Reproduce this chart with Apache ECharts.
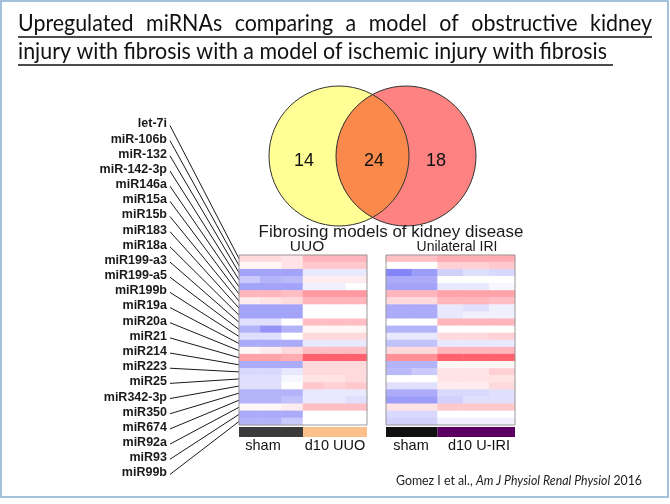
<!DOCTYPE html>
<html>
<head>
<meta charset="utf-8">
<script src="https://cdn.jsdelivr.net/npm/echarts@6/dist/echarts.min.js"></script>
<style>html,body{margin:0;padding:0;background:#fff;}#c{width:670px;height:504px;}</style>
</head>
<body>
<div id="c"></div>
<script>
// ---------- DATA ----------
const titleLine1 = 'Upregulated miRNAs comparing a model of obstructive kidney';
const titleLine2 = 'injury with fibrosis with a model of ischemic injury with fibrosis';
const vennLabels = ['UUO only', 'Both', 'IRI only'];
const vennValues = [14, 24, 18];
const mirnas = ['let-7i','miR-106b','miR-132','miR-142-3p','miR146a','miR15a','miR15b','miR183','miR18a','miR199-a3','miR199-a5','miR199b','miR19a','miR20a','miR21','miR214','miR223','miR25','miR342-3p','miR350','miR674','miR92a','miR93','miR99b'];
const uuoCols = ['sham1','sham2','sham3','d10a','d10b','d10c'];
const iriCols = ['sham1','sham2','d10a','d10b','d10c'];
// relative expression (-1 blue .. +1 red), one row per miRNA
const uuoValues = [
 [0.2,0.2,0.15, 0.4,0.4,0.4],
 [0.05,0.05,0.15, 0.3,0.3,0.3],
 [-0.6,-0.6,-0.6, -0.15,-0.15,-0.15],
 [-0.35,-0.5,-0.45, 0.1,0.1,0.1],
 [-0.6,-0.6,-0.6, -0.1,-0.1,0],
 [0.4,0.4,0.35, 0.55,0.55,0.55],
 [0.1,0.15,0.2, 0.4,0.4,0.4],
 [-0.6,-0.6,-0.6, 0,0,0],
 [-0.6,-0.6,-0.6, 0,0,0],
 [-0.2,-0.2,0, 0.35,0.35,0.35],
 [-0.5,-0.7,-0.5, 0.05,0.05,0.05],
 [-0.2,-0.2,0, 0.2,0.2,0.2],
 [-0.55,-0.55,-0.55, -0.15,-0.15,-0.15],
 [0.05,0.1,0.2, 0.35,0.35,0.35],
 [0.5,0.5,0.45, 0.85,0.85,0.85],
 [-0.55,-0.55,-0.55, 0.2,0.2,0.2],
 [-0.25,-0.25,-0.15, 0.2,0.2,0.2],
 [-0.2,-0.2,-0.05, 0.15,0.15,0.2],
 [-0.2,-0.2,0, 0.3,0.25,0.3],
 [-0.5,-0.5,-0.5, -0.15,-0.15,-0.15],
 [-0.5,-0.5,-0.4, -0.15,-0.15,-0.2],
 [0.05,0.05,0.1, 0.35,0.35,0.35],
 [-0.55,-0.55,-0.55, 0,0,0],
 [-0.5,-0.5,-0.35, 0,0,0]
];
const iriValues = [
 [0.35,0.35, 0.45,0.45,0.45],
 [0,0, 0.25,0.25,0.3],
 [-0.8,-0.65, -0.3,-0.2,-0.25],
 [-0.55,-0.55, 0,0,0],
 [-0.6,-0.6, -0.15,-0.15,-0.05],
 [0.4,0.4, 0.5,0.5,0.5],
 [0.2,0.2, 0.4,0.4,0.35],
 [-0.55,-0.55, -0.15,-0.2,-0.1],
 [-0.55,-0.55, -0.15,-0.1,-0.1],
 [0,0, 0.4,0.4,0.4],
 [-0.5,-0.5, 0,0,0],
 [-0.15,-0.15, 0.2,0.2,0.25],
 [-0.4,-0.4, -0.15,-0.15,-0.15],
 [0.2,0.2, 0.4,0.4,0.4],
 [0.6,0.6, 0.85,0.85,0.85],
 [-0.5,-0.5, 0.05,0.05,0.05],
 [-0.45,-0.35, 0.15,0.15,0.25],
 [0,0, 0.15,0.15,0.15],
 [-0.2,-0.2, 0.1,0.1,0.2],
 [-0.55,-0.55, -0.25,-0.25,-0.2],
 [-0.65,-0.65, -0.3,-0.2,-0.2],
 [0.15,0.15, 0.3,0.3,0.3],
 [-0.25,-0.25, 0,0,0],
 [-0.3,-0.3, -0.1,-0.1,-0.1]
];
const uuoGroups = [['sham', 0, 2], ['d10 UUO', 3, 5]];
const iriGroups = [['sham', 0, 1], ['d10 U-IRI', 2, 4]];
const uuoGroupColors = ['#3b3b3b', '#fdc08a'];
const iriGroupColors = ['#111111', '#5b0062'];
const citation = ['Gomez I et al., ', 'Am J Physiol Renal Physiol', ' 2016'];

// ---------- HELPERS ----------
const mctx = document.createElement('canvas').getContext('2d');
function mw(font, text) { mctx.font = font; return mctx.measureText(text).width; }
function toCells(rows) {
  const out = [];
  rows.forEach((r, yi) => r.forEach((v, xi) => out.push([xi, yi, v])));
  return out;
}
const SANS = 'Liberation Sans';
const graphic = [];

// outer slide frame
graphic.push({type:'rect', shape:{x:1, y:1, width:667, height:496}, style:{fill:'none', stroke:'#a3c0dd', lineWidth:2}, z:1});

// title (justified first line, underlined)
const TF = '23px Lato';
const sc = 589 / mw(TF, titleLine2);
const words = titleLine1.split(' ');
const ww = words.map(w => mw(TF, w) * sc);
const gap = (652 - 18 - ww.reduce((a, b) => a + b, 0)) / (words.length - 1);
let cx = 18;
words.forEach((w, i) => {
  graphic.push({type:'text', x:cx, y:24, scaleX:sc, style:{text:w, font:TF, fill:'#111', align:'left', textAlign:'left', verticalAlign:'middle', textVerticalAlign:'middle'}, z:5});
  cx += ww[i] + gap;
});
graphic.push({type:'text', x:18, y:52, scaleX:sc, style:{text:titleLine2, font:TF, fill:'#111', align:'left', textAlign:'left', verticalAlign:'middle', textVerticalAlign:'middle'}, z:5});
graphic.push({type:'line', shape:{x1:18, y1:37, x2:652, y2:37}, style:{stroke:'#111', lineWidth:1.4}, z:5});
graphic.push({type:'line', shape:{x1:18, y1:65, x2:613, y2:65}, style:{stroke:'#111', lineWidth:1.4}, z:5});

// venn
const R = 70, c1x = 339, c2x = 406, cy = 156;
const a = (c2x - c1x) / 2, h = Math.sqrt(R * R - a * a);
const th = Math.atan2(h, a);
const lens = [];
const N = 40;
for (let k = 0; k <= N; k++) { // right side of left circle, top -> bottom
  const t = -th + 2 * th * k / N;
  lens.push([c1x + R * Math.cos(t), cy + R * Math.sin(t)]);
}
for (let k = 0; k <= N; k++) { // left side of right circle, bottom -> top
  const t = Math.PI - th + 2 * th * k / N;
  lens.push([c2x + R * Math.cos(t), cy + R * Math.sin(t)]);
}
graphic.push({type:'circle', shape:{cx:c1x, cy:cy, r:R}, style:{fill:'#ffff96'}, z:2});
graphic.push({type:'circle', shape:{cx:c2x, cy:cy, r:R}, style:{fill:'#ff8282'}, z:2});
graphic.push({type:'polygon', shape:{points:lens}, style:{fill:'#f98a4b'}, z:3});
graphic.push({type:'circle', shape:{cx:c1x, cy:cy, r:R}, style:{fill:'none', stroke:'#333', lineWidth:1}, z:4});
graphic.push({type:'circle', shape:{cx:c2x, cy:cy, r:R}, style:{fill:'none', stroke:'#333', lineWidth:1}, z:4});
const vennX = [304, 374, 436];
vennValues.forEach((v, i) => {
  graphic.push({type:'text', x:vennX[i], y:161, style:{text:String(v), font:`18px "${SANS}"`, fill:'#111', align:'center', textAlign:'center', verticalAlign:'middle', textVerticalAlign:'middle'}, z:5});
});

// subtitles
function fitText(text, cxp, cyp, width, baseSize) {
  const fs = baseSize * width / mw(`${baseSize}px "${SANS}"`, text);
  graphic.push({type:'text', x:cxp, y:cyp, style:{text:text, font:`${fs.toFixed(2)}px "${SANS}"`, fill:'#1a1a1a', align:'center', textAlign:'center', verticalAlign:'middle', textVerticalAlign:'middle'}, z:5});
}
fitText('Fibrosing models of kidney disease', 391, 232, 265, 16);
graphic.push({type:'text', x:307, y:247, style:{text:'UUO', font:`15.5px "${SANS}"`, fill:'#1a1a1a', align:'center', textAlign:'center', verticalAlign:'middle', textVerticalAlign:'middle'}, z:5});
fitText('Unilateral IRI', 457, 247, 81, 15);

// group labels under heatmaps
const grpLabelX = [[263, 335], [411, 479]];
[uuoGroups, iriGroups].forEach((gs, p) => gs.forEach((g, i) => {
  graphic.push({type:'text', x:grpLabelX[p][i], y:446, style:{text:g[0], font:`14.5px "${SANS}"`, fill:'#111', align:'center', textAlign:'center', verticalAlign:'middle', textVerticalAlign:'middle'}, z:5});
}));

// panel borders
graphic.push({type:'rect', shape:{x:239, y:255, width:128, height:170}, style:{fill:'none', stroke:'#9a9a9a', lineWidth:1}, z:50});
graphic.push({type:'rect', shape:{x:386, y:255, width:129, height:170}, style:{fill:'none', stroke:'#9a9a9a', lineWidth:1}, z:50});

// citation
const CF = '13px Lato', CFI = 'italic 13px Lato';
const cw = mw(CF, citation[0]) + mw(CFI, citation[1]) + mw(CF, citation[2]);
graphic.push({type:'text', x:396, y:481, scaleX:246 / cw, style:{text:`{n|${citation[0]}}{i|${citation[1]}}{n|${citation[2]}}`, rich:{n:{font:CF, fill:'#222'}, i:{font:CFI, fill:'#222'}}, align:'left', textAlign:'left', verticalAlign:'middle', textVerticalAlign:'middle'}, z:5});

// ---------- CHART ----------
const chart = echarts.init(document.getElementById('c'), null, {renderer:'canvas'});

function groupBarSeries(gi, groups, colors) {
  return {
    type:'custom', xAxisIndex:gi, yAxisIndex:gi, silent:true, clip:false,
    data: groups.map(g => [g[1], g[2]]),
    renderItem: function (params, api) {
      const p0 = api.coord([api.value(0), mirnas.length - 1]);
      const p1 = api.coord([api.value(1), mirnas.length - 1]);
      const s = api.size([1, 1]);
      const x0 = p0[0] - s[0] / 2, x1 = p1[0] + s[0] / 2;
      const y0 = p0[1] + s[1] / 2 + 2;
      return {type:'rect', shape:{x:x0, y:y0, width:x1 - x0, height:10}, style:{fill:colors[params.dataIndex]}};
    }
  };
}

const option = {
  animation:false,
  backgroundColor:'#ffffff',
  grid:[
    {left:239, top:255, width:128, height:170, show:false},
    {left:386, top:255, width:129, height:170, show:false}
  ],
  xAxis:[
    {type:'category', gridIndex:0, data:uuoCols, show:false},
    {type:'category', gridIndex:1, data:iriCols, show:false}
  ],
  yAxis:[
    {type:'category', gridIndex:0, data:mirnas, inverse:true, show:false},
    {type:'category', gridIndex:1, data:mirnas, inverse:true, show:false}
  ],
  visualMap:{show:false, min:-1, max:1, seriesIndex:[0, 1], inRange:{color:['#6666f5', '#ffffff', '#ff4654']}},
  series:[
    {type:'heatmap', xAxisIndex:0, yAxisIndex:0, data:toCells(uuoValues), itemStyle:{borderWidth:0}, emphasis:{disabled:true}, silent:true},
    {type:'heatmap', xAxisIndex:1, yAxisIndex:1, data:toCells(iriValues), itemStyle:{borderWidth:0}, emphasis:{disabled:true}, silent:true},
    {
      type:'custom', xAxisIndex:0, yAxisIndex:0, silent:true, clip:false,
      data: mirnas.map((m, i) => [0, i]),
      renderItem: function (params, api) {
        const i = params.dataIndex;
        const p = api.coord([0, api.value(1)]);
        const s = api.size([1, 1]);
        const ly = 124 + i * 15.17;
        return {type:'group', children:[
          {type:'line', shape:{x1:170, y1:ly + 1.5, x2:p[0] - s[0] / 2, y2:p[1]}, style:{stroke:'#1a1a1a', lineWidth:1}},
          {type:'text', style:{text:mirnas[i], x:167, y:ly, font:`bold 12.5px "${SANS}"`, fill:'#1a1a1a', align:'right', verticalAlign:'middle'}}
        ]};
      }
    },
    groupBarSeries(0, uuoGroups, uuoGroupColors),
    groupBarSeries(1, iriGroups, iriGroupColors)
  ],
  graphic: graphic
};
chart.setOption(option);
</script>
</body>
</html>
